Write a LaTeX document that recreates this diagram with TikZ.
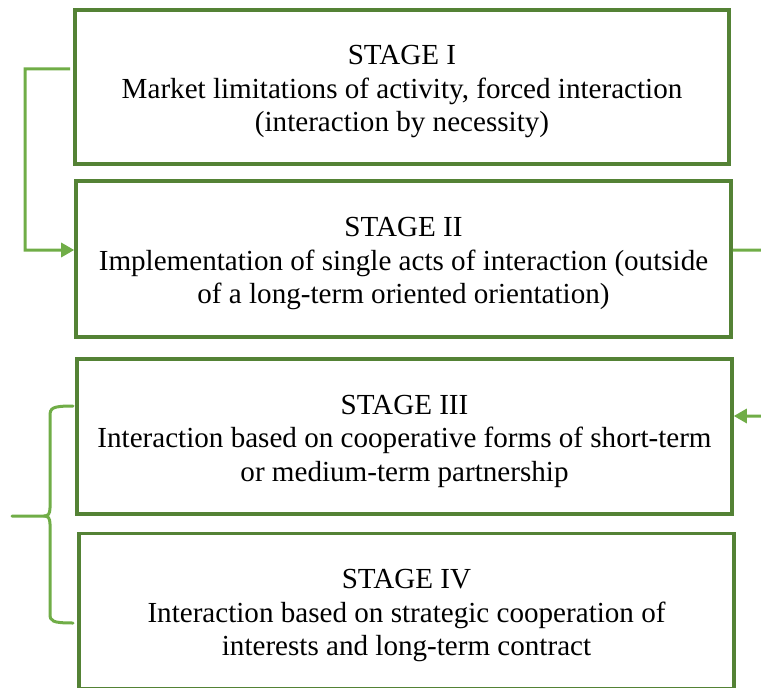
\documentclass[tikz,border=0pt]{standalone}
\usepackage{fontspec}
\setmainfont{Liberation Serif}
\usetikzlibrary{arrows.meta,calc}
\definecolor{boxgreen}{HTML}{548235}
\definecolor{linegreen}{HTML}{70AD47}
\newcommand{\pushdown}{\rule{0pt}{29bp}}
\tikzset{
  stagebox/.style={draw=boxgreen, line width=3.5bp, fill=white, inner sep=0pt,
    align=center, font=\fontsize{29.1bp}{33.5bp}\selectfont, text=black},
  conn/.style={draw=linegreen, line width=3bp},
  tip/.style={-{Triangle[length=13bp,width=14bp]}}
}
\begin{document}
\begin{tikzpicture}[x=1bp,y=-1bp]
\useasboundingbox (0,0) rectangle (761,688);
\node[stagebox, minimum width=654bp, minimum height=154bp] (b1) at (402,87)
  {\pushdown STAGE I\\Market limitations of activity, forced interaction\\(interaction by necessity)};
\node[stagebox, minimum width=655bp, minimum height=156bp] (b2) at (403.5,259)
  {\pushdown STAGE II\\Implementation of single acts of interaction (outside\\of a long-term oriented orientation)};
\node[stagebox, minimum width=655bp, minimum height=155bp] (b3) at (404.5,436.5)
  {\pushdown STAGE III\\Interaction based on cooperative forms of short-term\\or medium-term partnership};
\node[stagebox, minimum width=655bp, minimum height=155bp] (b4) at (406.5,611)
  {\pushdown STAGE IV\\Interaction based on strategic cooperation of\\interests and long-term contract};
% left connector
\coordinate (lc) at (25,69);
\draw[conn, tip] ([yshift=18bp,xshift=-3bp]b1.west) -- (lc) |- ([yshift=9bp]b2.west);
% right connectors
\coordinate (r1) at (761,250);
\coordinate (r2) at (761,416);
\draw[conn] ([yshift=9bp]b2.east) -- (r1);
\draw[conn, tip] (r2) -- ([yshift=20.5bp]b3.east);
% brace
\coordinate (bt) at (73,406);
\coordinate (bm) at (12,516);
\coordinate (bb) at (73,623);
\draw[conn, line cap=round] (bt) .. controls (52,406) and (50,408) .. (50,416)
  -- (50,508) .. controls (50,514) and (48,516) .. (44,516) -- (bm);
\draw[conn, line cap=round] (44,516) .. controls (48,516) and (50,518) .. (50,524)
  -- (50,614) .. controls (50,621) and (52,623) .. (bb);
\end{tikzpicture}
\end{document}
